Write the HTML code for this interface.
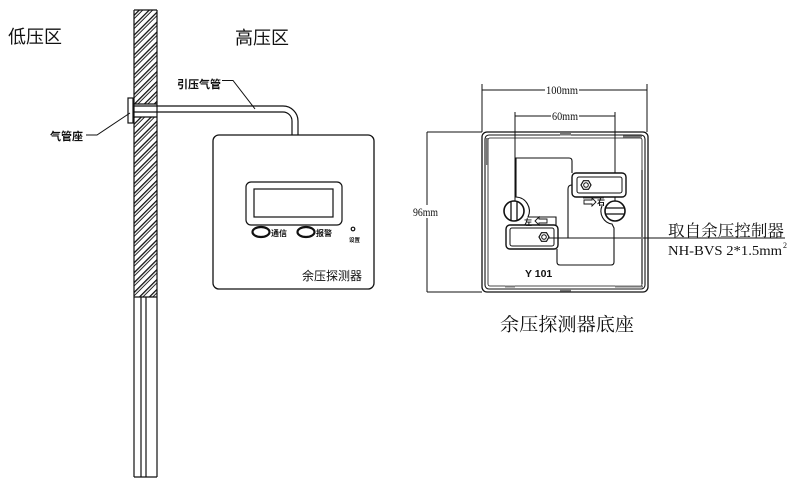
<!DOCTYPE html>
<html><head><meta charset="utf-8">
<style>
html,body{margin:0;padding:0;background:#fff;}
svg{display:block;}
text{font-family:"Liberation Sans","Noto Sans CJK SC",sans-serif;fill:#111;}
.serif{font-family:"Liberation Serif","Noto Serif CJK SC",serif;}
</style></head>
<body>
<svg width="800" height="483" viewBox="0 0 800 483" xmlns="http://www.w3.org/2000/svg">
<defs>
<pattern id="h" width="7" height="7" patternUnits="userSpaceOnUse" patternTransform="rotate(-45)">
<rect x="0" y="0" width="7" height="1.3" fill="#111"/>
<rect x="0" y="2.6" width="7" height="0.9" fill="#111"/>
</pattern>
</defs>
<g fill="none" stroke="#111" stroke-width="1.2">
<!-- labels -->
</g>
<text x="8" y="43" font-size="18">低压区</text>
<text x="235" y="44" font-size="18">高压区</text>
<text x="177" y="88" font-size="11" font-weight="bold">引压气管</text>
<text x="50" y="140" font-size="11" font-weight="bold">气管座</text>

<!-- wall -->
<rect x="134" y="10" width="23" height="94" fill="url(#h)"/>
<rect x="134" y="117" width="23" height="180" fill="url(#h)"/>
<g fill="none" stroke="#111" stroke-width="1.2">
<line x1="134" y1="10" x2="157" y2="10"/>
<line x1="134" y1="10" x2="134" y2="477"/>
<line x1="157" y1="10" x2="157" y2="477"/>
<line x1="134" y1="104" x2="157" y2="104"/>
<line x1="134" y1="117" x2="157" y2="117"/>
<line x1="134" y1="297" x2="157" y2="297"/>
<line x1="141" y1="297" x2="141" y2="477"/>
<line x1="146" y1="297" x2="146" y2="477"/>
<line x1="134" y1="477" x2="157" y2="477"/>
<!-- flange -->
<rect x="128" y="98" width="5" height="25" fill="#fff"/>
<!-- pipe -->
<path d="M133,106 H283 A15,15 0 0 1 298,121 V135"/>
<path d="M133,112 H283 A9,9 0 0 1 292,121 V135"/>
<!-- leaders -->
<path d="M222,80.5 H233 L255,109" stroke-width="1"/>
<path d="M86,135 H97 L130,113" stroke-width="1"/>

<!-- detector -->
<rect x="213" y="135" width="161" height="154" rx="6" stroke-width="1.3"/>
<rect x="246" y="182" width="96" height="43" rx="5"/>
<rect x="254" y="189" width="79" height="28"/>
<ellipse cx="261" cy="232" rx="8.5" ry="5" stroke-width="2.2"/>
<ellipse cx="306" cy="232" rx="8.5" ry="5" stroke-width="2.2"/>
<circle cx="353" cy="229" r="1.8"/>
</g>
<text x="271" y="236" font-size="8" font-weight="bold">通信</text>
<text x="316" y="236" font-size="8" font-weight="bold">报警</text>
<text x="349" y="242" font-size="5.5" font-weight="bold">设置</text>
<text x="302" y="280" font-size="12">余压探测器</text>

<!-- base -->
<g fill="none" stroke="#111" stroke-width="1">
<!-- dims -->
<line x1="482" y1="84" x2="482" y2="132"/>
<line x1="647" y1="84" x2="647" y2="132"/>
<line x1="482" y1="90" x2="647" y2="90"/>
<line x1="515" y1="112" x2="515" y2="201"/>
<line x1="615" y1="112" x2="615" y2="201"/>
<line x1="515" y1="116" x2="615" y2="116"/>
<line x1="427" y1="132" x2="427" y2="292"/>
<line x1="427" y1="132" x2="482" y2="132"/>
<line x1="427" y1="292" x2="482" y2="292"/>
<!-- frames -->
<rect x="482" y="132" width="166" height="160" rx="5" stroke-width="1.3"/>
<rect x="485" y="135" width="160" height="154" rx="4" stroke-width="1.1"/>
<rect x="488" y="138" width="154" height="148" rx="2" stroke-width="0.8"/>
<!-- cutout -->
<path d="M572,173 V161 Q572,158 569,158 H516 V197 A14,14 0 0 1 528,217 H556 V225" stroke-width="1.1"/>
<path d="M572,185 Q568,185 568,189 V238" stroke-width="1.1"/>
<path d="M602,206 A13,13 0 0 0 612,224 L614,228 V262 Q614,265 611,265 H560 Q557,265 557,262 V249" stroke-width="1.1"/>
<line x1="583" y1="198" x2="604" y2="198" stroke-width="0.8"/>
<!-- connectors -->
<rect x="572" y="173" width="54" height="24" rx="4" stroke-width="1.4" fill="#fff"/>
<rect x="577" y="177" width="45" height="16" rx="2"/>
<rect x="506" y="225" width="52" height="24" rx="4" stroke-width="1.4" fill="#fff"/>
<rect x="510" y="228" width="44" height="18" rx="2"/>
<polygon points="591,185 588.5,189.3 583.5,189.3 581,185 583.5,180.7 588.5,180.7" stroke-width="1.2"/>
<circle cx="586" cy="185" r="2.3"/>
<polygon points="549,237 546.5,241.3 541.5,241.3 539,237 541.5,232.7 546.5,232.7" stroke-width="1.2"/>
<circle cx="544" cy="237" r="2.3"/>
<!-- knobs -->
<circle cx="615" cy="211" r="10" stroke-width="1.6" fill="#fff"/>
<line x1="606" y1="208" x2="624" y2="208" stroke-width="1.3"/>
<line x1="606" y1="214" x2="624" y2="214" stroke-width="1.3"/>
<circle cx="514" cy="211" r="10" stroke-width="1.6" fill="#fff"/>
<line x1="511" y1="202" x2="511" y2="220" stroke-width="1.3"/>
<line x1="517" y1="202" x2="517" y2="220" stroke-width="1.3"/>
<!-- arrows -->
<path d="M584,200 H592 V198 L596,202 L592,206 V204 H584 Z" stroke-width="0.9"/>
<path d="M547,219 H539 V217 L535,221 L539,225 V223 H547 Z" stroke-width="0.9"/>
<!-- leader -->
<line x1="549" y1="238" x2="785" y2="238" stroke-width="1.1"/>
</g>
<g fill="#777">
<rect x="486" y="138" width="2" height="27"/>
<rect x="641" y="170" width="2" height="114"/>
<rect x="560" y="133" width="11" height="2.5"/>
<rect x="623" y="135.5" width="19" height="2"/>
<rect x="560" y="289" width="11" height="2.5"/>
<rect x="505" y="285.5" width="10" height="2"/>
<rect x="615" y="285.5" width="28" height="2"/>
</g>
<rect x="545" y="84" width="34" height="12" fill="#fff"/>
<text x="546" y="94" font-size="11.5" class="serif" textLength="32" lengthAdjust="spacingAndGlyphs">100mm</text>
<rect x="551" y="110" width="28" height="12" fill="#fff"/>
<text x="552" y="120" font-size="11.5" class="serif" textLength="26" lengthAdjust="spacingAndGlyphs">60mm</text>
<rect x="413" y="205" width="26" height="13" fill="#fff"/>
<text x="413" y="216" font-size="11.5" class="serif" textLength="25" lengthAdjust="spacingAndGlyphs">96mm</text>
<text x="597" y="205" font-size="8" font-weight="bold">右</text>
<text x="524" y="225" font-size="8" font-weight="bold">左</text>
<text x="525" y="277" font-size="10.5" font-weight="bold">Y 101</text>
<text x="668" y="236" font-size="16" class="serif" textLength="116" lengthAdjust="spacingAndGlyphs">取自余压控制器</text>
<text x="668" y="255" font-size="14" class="serif" textLength="114" lengthAdjust="spacingAndGlyphs">NH-BVS 2*1.5mm</text>
<text x="783" y="248" font-size="8" class="serif">2</text>
<text x="500" y="331" font-size="18.5" class="serif" textLength="134" lengthAdjust="spacingAndGlyphs">余压探测器底座</text>
</svg>
</body></html>
